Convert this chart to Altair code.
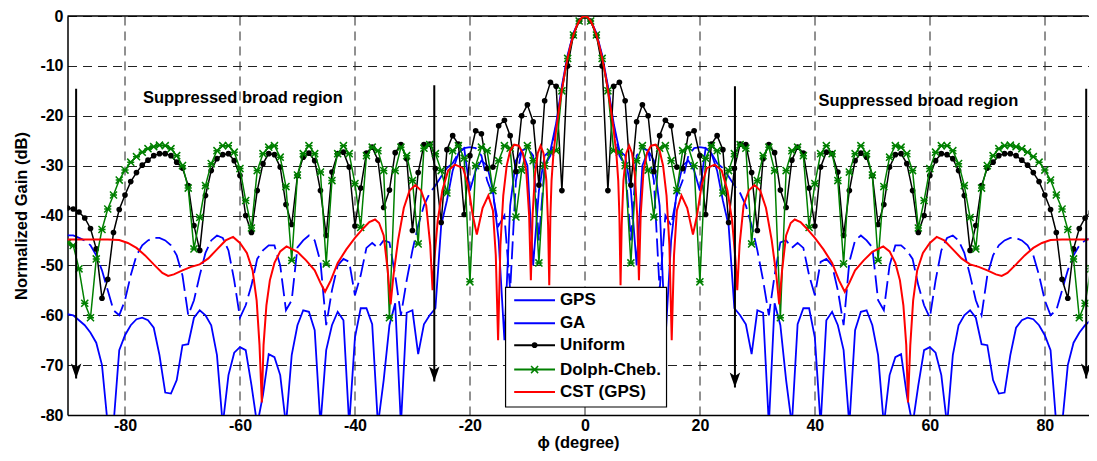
import altair as alt
import pandas as pd

FONT = "Liberation Sans"

# ---------------- data (right half, 0..90 deg, 1 deg step) -------------
# the pattern is symmetric about 0 deg; left half mirrors these readings
deg_half = list(range(0, 91))

gps_half = [0, -0.8, -3.4, -7.8, -14, -21.5, -27, -28, -35, -50,
            -30, -27, -29, -38, -65, -45, -35, -30, -29, -31,
            -35, -26.5, -27.5, -31, -37, -42, -58.6, -60, -61.8, -67.8,
            -59, -59.5, -82, -57.6, -62, -73, -82, -61.8, -58.6, -58.6,
            -64.5, -82, -61, -59.3, -62, -67, -82, -63, -59.3, -59,
            -62, -68, -82, -72, -68.4, -67.8, -76, -82, -74, -67,
            -66.4, -67.5, -72, -82, -68, -62, -60, -59, -60.5, -65.8,
            -66, -73, -75.7, -75.5, -68, -62.5, -61, -60.5, -60.8, -62,
            -64, -67, -82, -82, -70, -65.5, -63.5, -62, -61, -60, -59.8]

ga_half = [0, -0.9, -3.6, -8.2, -14.5, -22, -28, -30, -45, -28,
           -26.5, -27, -33, -55, -40, -42, -36, -33, -28, -26.5,
           -26.3, -26.5, -27.5, -29.5, -30.5, -32.2, -34, -35.5, -38, -42,
           -47, -53, -60, -52, -45.4, -45, -46.5, -45.5, -46.5, -52,
           -56, -49.3, -48.7, -50, -55, -62, -49.3, -45, -44, -45,
           -46.4, -57, -59, -50, -46, -46, -47, -48.7, -54, -58,
           -60.5, -53, -47, -44.5, -44, -45, -47.5, -52, -57, -60,
           -52, -48, -46, -45, -44.5, -44.5, -45, -46, -48, -52,
           -57, -60, -59, -55, -51, -48, -46, -45, -44.5, -44, -44]

uniform_half = [0, -1, -3.9, -10, -35, -14.1, -13.3, -17, -33.9, -21.2,
                -17.8, -20, -31.2, -24, -20.9, -22, -30.3, -30.6, -23.6, -23,
                -28, -39.8, -25.7, -24, -26.8, -41.4, -30.6, -25.7, -25.8, -31.4,
                -43, -28.6, -25.8, -27.4, -34.9, -38.4, -28.9, -26.3, -27.5, -34.5,
                -42.1, -30.3, -27.3, -27.6, -31.3, -44, -35, -29, -27.5, -28.3,
                -32, -41.8, -37.8, -30.3, -27.8, -27.6, -29.6, -35, -43.4, -40,
                -32, -29, -27.6, -27.8, -28.6, -31, -36, -47, -42, -34,
                -30.5, -29.3, -28, -27.6, -27.6, -28, -28.9, -29.9, -31.4, -33.2,
                -35.9, -38.8, -43.4, -52.8, -56.6, -46.7, -42.6, -40.5, -39.3, -38.7, -38.5]

dolph_half = [0, -1, -3.8, -8.5, -15, -27, -27.3, -30, -49.5, -29,
              -26, -30.9, -40.3, -26.5, -26, -29, -35, -27, -26.3, -30,
              -53.3, -28.5, -26, -27, -35.5, -31, -27.6, -25.8, -26.5, -45.7,
              -33, -28, -26.3, -31, -60.5, -31, -27, -26.3, -28, -42.4,
              -33.6, -27.6, -26, -27.6, -33, -49.7, -31.3, -27.6, -26, -27.6,
              -31.9, -49, -34.2, -28.3, -26, -26.3, -27.6, -31, -42.5, -37,
              -30.6, -27.3, -26, -26, -27, -29.6, -34, -40.4, -46.7, -34.5,
              -30, -28, -26.6, -26, -25.9, -26.2, -26.6, -27.3, -28.2, -29.3,
              -30.9, -32.9, -35.9, -38.7, -42.8, -48.7, -60.5, -57.6, -50.7, -46, -45.5]

cst_deg_half = [0, 0.5, 1, 1.5, 2, 2.5, 3, 3.5, 4, 4.5, 5, 5.5, 5.8, 6.0, 6.2, 6.4, 6.7,
                7.2, 7.7, 8.2, 8.7, 9.1, 9.4, 9.7, 10.2, 10.8, 11.5, 12.3, 13, 13.6, 14.2,
                14.7, 15.1, 15.5, 16, 16.8, 17.8, 18.8, 19.5, 20.3, 21.2, 22.6, 23.8, 24.8,
                25.6, 26.2, 26.5, 26.9, 27.6, 28.5, 29.5, 30.5, 31.5, 32.5, 33.3, 33.8, 34.3,
                35, 35.8, 36.5, 37.5, 38.5, 40, 41.5, 43, 44.2, 45.2, 46, 47, 48.5, 50, 51.9,
                53, 54, 54.8, 55.4, 55.9, 56.2, 56.6, 57.1, 57.8, 58.8, 60, 61.2, 62.5, 64,
                65.5, 67, 68.5, 70, 71.5, 72.5, 73.5, 75, 76.5, 78, 79.5, 81, 83, 86, 90]
cst_half = [0, -0.25, -1, -2.2, -3.8, -5.9, -8.4, -11.4, -14.8, -18.6, -22.8, -28, -33, -40, -54, -42, -33,
            -27.5, -26, -27.5, -32, -40, -53, -40, -31, -27.5, -26, -25.8, -27, -30, -36,
            -46, -65, -48, -39, -36, -38.5, -43.8, -40, -34, -30.5, -29.8, -31, -35,
            -41, -49, -55, -46, -38, -35, -33.9, -35, -38.5, -45, -52, -57.8, -51,
            -44, -41.5, -40.8, -41.3, -42.5, -44.5, -46.8, -49.5, -53, -55.3, -53.5, -51, -49, -47.3, -46.2,
            -47.2, -49.5, -53, -58, -66, -77.5, -66, -57, -51, -47.5, -45.5, -44.3, -45, -46.8,
            -48.6, -49.8, -50.3, -51, -51.8, -52.1, -51.5, -49.8, -48, -46.5, -45.5, -44.9, -44.8, -44.8, -44.8]

series_names = ["GPS", "GA", "Uniform", "Dolph-Cheb.", "CST (GPS)"]
series_colors = ["#0000ff", "#0000ff", "#000000", "#008000", "#ff0000"]

# arrows marking the suppressed regions: x, top, tip (dB)
arrow_x = [-88.5, -26.2, 26.1, 87.2]
arrow_top = [-14.6, -13.9, -14.1, -14.6]
arrow_tip = [-72.7, -73.3, -74.5, -72.7]

note_text = ["Suppressed broad region", "Suppressed broad region"]
note_x = [-59.5, 58.0]
note_y = [-16.4, -17.0]


def mirrored(xs, ys):
    xl = [-x for x in reversed(xs[1:])] + list(xs)
    yl = list(reversed(ys[1:])) + list(ys)
    return pd.DataFrame({"x": xl, "y": yl})


df_gps = mirrored(deg_half, gps_half)
df_ga = mirrored(deg_half, ga_half)
df_uni = mirrored(deg_half, uniform_half)
df_dol = mirrored(deg_half, dolph_half)
df_cst = mirrored(cst_deg_half, cst_half)

# ---------------- scales / axes ----------------
X_SCALE = alt.Scale(domain=[-90, 87.6], nice=False, zero=False)
Y_SCALE = alt.Scale(domain=[-80, 0], nice=False, zero=False)
LABEL_EXPR = "datum.value < 0 ? '-' + abs(datum.value) : '' + datum.value"

x_axis = alt.Axis(values=[-80, -60, -40, -20, 0, 20, 40, 60, 80], grid=True,
                  gridDash=[9, 6], gridColor="#222222", gridWidth=1, ticks=False,
                  labelPadding=2, domainColor="black", domainWidth=1.5,
                  title="\u03d5 (degree)", titlePadding=1, labelExpr=LABEL_EXPR)
y_axis = alt.Axis(values=[0, -10, -20, -30, -40, -50, -60, -70, -80], grid=True,
                  gridDash=[9, 6], gridColor="#222222", gridWidth=1, ticks=False,
                  labelPadding=4.5, domainColor="black", domainWidth=1.5,
                  title="Normalized Gain (dB)", titlePadding=10, labelExpr=LABEL_EXPR)

X = alt.X("x:Q", scale=X_SCALE, axis=x_axis)
Y = alt.Y("y:Q", scale=Y_SCALE, axis=y_axis)

STAR = "M-1,-1L1,1M-1,1L1,-1M-1,0L1,0"
ARROW = "M0,1L-0.7,-1L0,-0.55L0.7,-1Z"

layers = []
top_frame = alt.Chart(pd.DataFrame({"y": [0]})).mark_rule(color="black", strokeWidth=1.5).encode(y=Y)
layers.append(top_frame)

layers.append(alt.Chart(df_gps).mark_line(color=series_colors[0], strokeWidth=1.8, clip=True).encode(x=X, y=Y))
layers.append(alt.Chart(df_ga).mark_line(color=series_colors[1], strokeWidth=1.8, strokeDash=[18, 6], clip=True).encode(x=X, y=Y))
layers.append(alt.Chart(df_uni).mark_line(color=series_colors[2], strokeWidth=1.5, clip=True).encode(x=X, y=Y))
layers.append(alt.Chart(df_uni).mark_point(color=series_colors[2], filled=True, size=32, opacity=1, clip=True).encode(x=X, y=Y))
layers.append(alt.Chart(df_dol).mark_line(color=series_colors[3], strokeWidth=1.5, clip=True).encode(x=X, y=Y))
layers.append(alt.Chart(df_dol).mark_point(color=series_colors[3], shape=STAR, filled=False, size=50, strokeWidth=1.5, opacity=1, clip=True).encode(x=X, y=Y))
layers.append(alt.Chart(df_cst).mark_line(color=series_colors[4], strokeWidth=2, clip=True).encode(x=X, y=Y))

# arrows
df_arrow = pd.DataFrame({"x": arrow_x, "y": arrow_top, "tip": arrow_tip})
layers.append(alt.Chart(df_arrow).mark_rule(color="black", strokeWidth=2).encode(
    x=X, y=Y, y2=alt.Y2("tip:Q")))
layers.append(alt.Chart(df_arrow).mark_point(shape=ARROW, filled=True, color="black", size=225,
                                             opacity=1, yOffset=-7.5).encode(
    x=X, y=alt.Y("tip:Q", scale=Y_SCALE, axis=y_axis)))

# annotations
df_note = pd.DataFrame({"x": note_x, "y": note_y, "t": note_text})
layers.append(alt.Chart(df_note).mark_text(font=FONT, fontWeight="bold", fontSize=16.5,
                                           color="black").encode(x=X, y=Y, text="t:N"))

# legend (drawn inside the plot like the original)
leg_box = pd.DataFrame({"x": [-13.8], "x2": [14.2], "y": [-54.4], "y2": [-78.4]})
layers.append(alt.Chart(leg_box).mark_rect(fill="white", stroke="black", strokeWidth=1.2).encode(
    x=X, x2="x2:Q", y=Y, y2="y2:Q"))
leg_rows = [-57.0, -61.6, -66.0, -70.9, -75.4]
df_leg = pd.DataFrame({"name": series_names, "color": series_colors, "y": leg_rows,
                       "x": [-12.3] * 5, "x2": [-5.2] * 5, "xm": [-8.75] * 5, "xt": [-4.35] * 5})
layers.append(alt.Chart(df_leg).mark_rule(strokeWidth=2).encode(
    x=X, x2="x2:Q", y=Y, color=alt.Color("color:N", scale=None)))
layers.append(alt.Chart(df_leg[df_leg["name"] == "Uniform"]).mark_point(
    filled=True, size=32, color="black", opacity=1).encode(
    x=alt.X("xm:Q", scale=X_SCALE, axis=x_axis), y=Y))
layers.append(alt.Chart(df_leg[df_leg["name"] == "Dolph-Cheb."]).mark_point(
    shape=STAR, filled=False, size=50, strokeWidth=1.5, color="#008000", opacity=1).encode(
    x=alt.X("xm:Q", scale=X_SCALE, axis=x_axis), y=Y))
layers.append(alt.Chart(df_leg).mark_text(font=FONT, fontWeight="bold", fontSize=17, align="left",
                                          baseline="middle", color="black").encode(
    x=alt.X("xt:Q", scale=X_SCALE, axis=x_axis), y=Y, text="name:N"))

chart = alt.layer(*layers).properties(
    width=1021, height=399,
    padding={"left": 59.5, "top": 8, "right": 0, "bottom": 36},
    autosize=alt.AutoSizeParams(type="none"),
    background="white",
).configure_view(strokeWidth=0).configure_axis(
    labelFont=FONT, labelFontWeight="bold", labelFontSize=16, labelColor="black",
    titleFont=FONT, titleFontWeight="bold", titleFontSize=16.5, titleColor="black",
)

chart.save("out.html", embed_options={"renderer": "svg", "actions": False})
